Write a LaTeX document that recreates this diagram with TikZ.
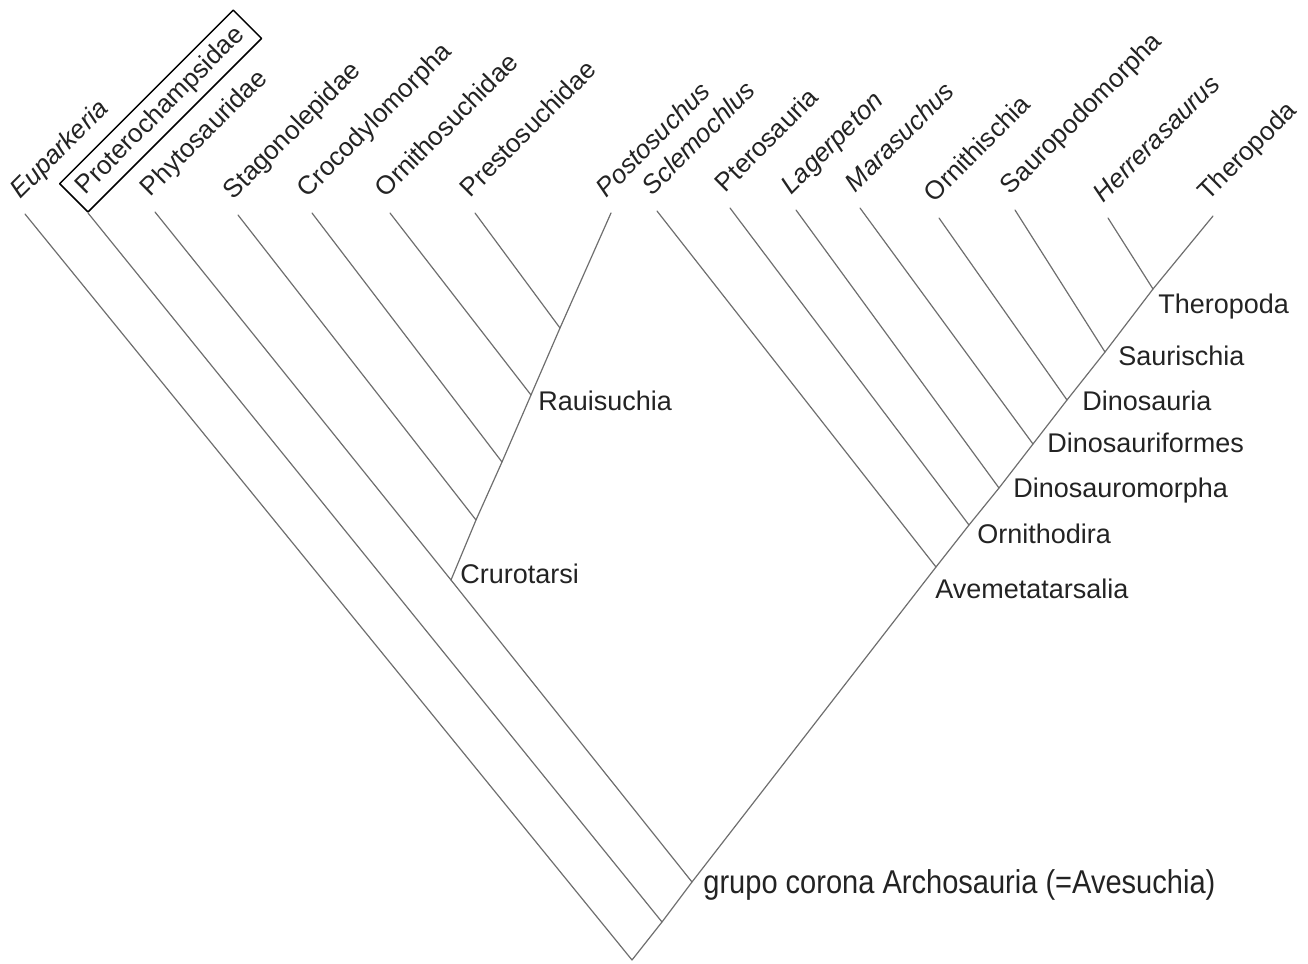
\documentclass[tikz,border=0pt]{standalone}
\usepackage{graphicx}
\usepackage{fontspec}
\setmainfont{Liberation Sans}

\definecolor{branchgray}{RGB}{110,110,110}
\definecolor{ink}{RGB}{35,35,35}

\tikzset{
  branch/.style={draw=branchgray, line width=0.6pt},
  taxon/.style={rotate=45, anchor=south west, inner sep=3.5pt,
    text height=10pt, text depth=3pt, text=ink,
    font=\fontsize{13}{16}\selectfont},
  clade/.style={anchor=base west, inner sep=0pt, text=ink,
    font=\fontsize{13.5}{16}\selectfont},
  crown/.style={anchor=base west, inner sep=0pt, text=ink,
    font=\fontsize{16.5}{19}\selectfont},
  boxed/.style={draw=black, line width=0.75pt, inner xsep=5pt}
}

\begin{document}
\begin{tikzpicture}[x=0.5pt, y=-0.5pt, line cap=round, line join=round]
\useasboundingbox (0,0) rectangle (1308,964);

% --- Tips (upper ends of the branches) ---
\foreach \t/\x/\y in {euparkeria/25/214, proterochampsidae/88/213,
    phytosauridae/155/212, stagonolepidae/238/215, crocodylomorpha/312/213,
    ornithosuchidae/390/213, prestosuchidae/475/213, postosuchus/611/213,
    sclemochlus/657/211, pterosauria/730/208, lagerpeton/796/210,
    marasuchus/860/208, ornithischia/939/218, sauropodomorpha/1015/210,
    herrerasaurus/1108/218, theropoda/1213/216}{
  \coordinate (t-\t) at (\x,\y);
}

% --- Internal nodes ---
\coordinate (root) at (632,960);
\coordinate (n1) at (662,922);
\coordinate (crown) at (692,882);
% crocodile line
\coordinate (crurotarsi) at (451,580);
\coordinate (n-stag) at (476,520);
\coordinate (n-croc) at (502,462);
\coordinate (rauisuchia) at (531,395);
\coordinate (n-prest) at (560,328);
% bird line
\coordinate (avemetatarsalia) at (936,567);
\coordinate (ornithodira) at (969,525);
\coordinate (dinosauromorpha) at (999,488);
\coordinate (dinosauriformes) at (1033,444);
\coordinate (dinosauria) at (1067,400);
\coordinate (saurischia) at (1105,352);
\coordinate (theropod) at (1153,289);

% --- Branches ---
\draw[branch] (t-euparkeria) -- (root) -- (n1) -- (crown) -- (avemetatarsalia)
  -- (ornithodira) -- (dinosauromorpha) -- (dinosauriformes) -- (dinosauria)
  -- (saurischia) -- (theropod) -- (t-theropoda);
\draw[branch] (t-phytosauridae) -- (crurotarsi) -- (crown);
\draw[branch] (crurotarsi) -- (n-stag) -- (n-croc) -- (rauisuchia) -- (n-prest)
  -- (t-postosuchus);
\foreach \t/\n in {proterochampsidae/n1, stagonolepidae/n-stag,
    crocodylomorpha/n-croc, ornithosuchidae/rauisuchia, prestosuchidae/n-prest,
    sclemochlus/avemetatarsalia, pterosauria/ornithodira,
    lagerpeton/dinosauromorpha, marasuchus/dinosauriformes,
    ornithischia/dinosauria, sauropodomorpha/saurischia,
    herrerasaurus/theropod}{
  \draw[branch] (t-\t) -- (\n);
}

% --- Taxon names ---
\foreach \t/\txt in {euparkeria/{\itshape Euparkeria},
    phytosauridae/Phytosauridae, stagonolepidae/Stagonolepidae,
    crocodylomorpha/Crocodylomorpha, ornithosuchidae/Ornithosuchidae,
    prestosuchidae/Prestosuchidae, postosuchus/{\itshape Postosuchus},
    sclemochlus/{\itshape Sclemochlus}, pterosauria/Pterosauria,
    lagerpeton/{\itshape Lagerpeton}, marasuchus/{\itshape Marasuchus},
    ornithischia/Ornithischia, sauropodomorpha/Sauropodomorpha,
    herrerasaurus/{\itshape Herrerasaurus}, theropoda/Theropoda}{
  \node[taxon] (l-\t) at (t-\t) {\txt};
}
\node[taxon, boxed] (l-proterochampsidae) at (t-proterochampsidae) {Proterochampsidae};

% --- Clade names ---
\node[clade] (l-rauisuchia) at (538,410) {Rauisuchia};
\node[clade] (l-crurotarsi) at (460,583) {Crurotarsi};
\node[clade] (l-theropod) at (1158,313) {Theropoda};
\node[clade] (l-saurischia) at (1118,365) {Saurischia};
\node[clade] (l-dinosauria) at (1082,410) {Dinosauria};
\node[clade] (l-dinosauriformes) at (1047,452) {Dinosauriformes};
\node[clade] (l-dinosauromorpha) at (1013,497) {Dinosauromorpha};
\node[clade] (l-ornithodira) at (977,543) {Ornithodira};
\node[clade] (l-avemetatarsalia) at (935,598) {Avemetatarsalia};
\node[crown] (l-crown) at (703,893)
  {\scalebox{0.88}[1]{grupo corona Archosauria (=Avesuchia)}};

\end{tikzpicture}
\end{document}
